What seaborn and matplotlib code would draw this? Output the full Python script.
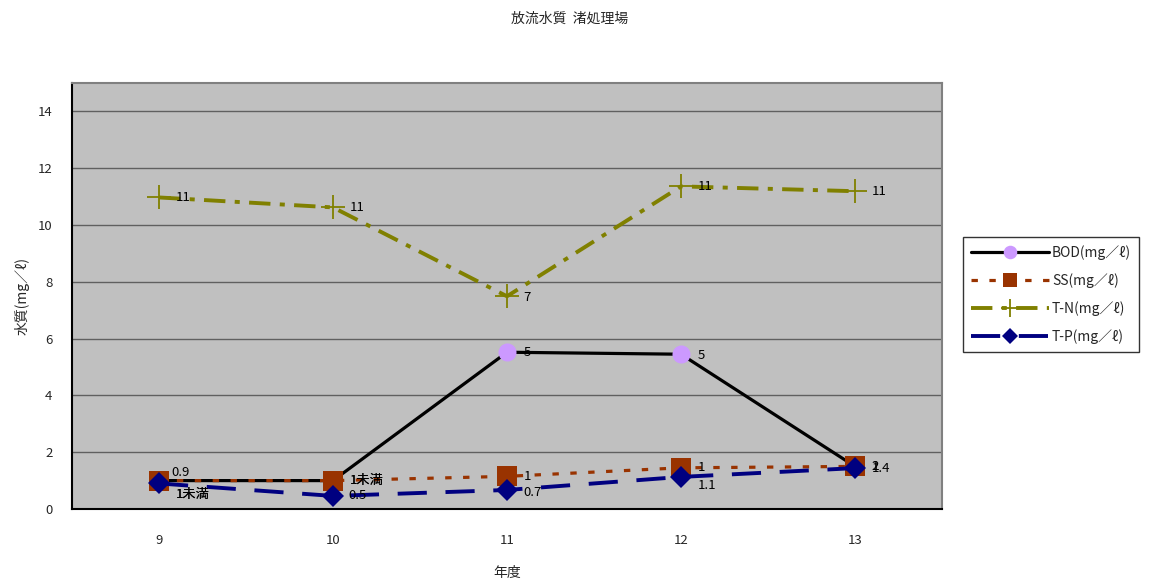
import matplotlib
matplotlib.use("Agg")
import matplotlib.pyplot as plt
import seaborn as sns
import pandas as pd
from matplotlib.lines import Line2D

# Fiscal years and measured effluent quality (mg/l)
years = ["9", "10", "11", "12", "13"]
bod = [1.0, 1.0, 5.52, 5.45, 1.5]
ss = [1.0, 1.0, 1.15, 1.45, 1.5]
tn = [10.97, 10.62, 7.49, 11.36, 11.19]
tp = [0.9, 0.46, 0.67, 1.13, 1.44]

# Data label text as reported
bod_labels = ["1未満", "1未満", "5", "5", "2"]
ss_labels = ["1未満", "1未満", "1", "1", "1"]
tn_labels = ["11", "11", "7", "11", "11"]
tp_labels = ["0.9", "0.5", "0.7", "1.1", "1.4"]

series_names = ["BOD(mg／ℓ)", "SS(mg／ℓ)", "T-N(mg／ℓ)", "T-P(mg／ℓ)"]

sns.set_theme(style="white")
plt.rcParams["font.family"] = ["Noto Sans CJK JP", "DejaVu Sans"]

fig = plt.figure(figsize=(11.57, 5.8), dpi=100)
ax = fig.add_axes([72 / 1157, 71 / 580, 870 / 1157, 426 / 580])
ax.set_facecolor("#C0C0C0")

x = list(range(len(years)))

styles = [
    dict(values=bod, labels=bod_labels, color="black", lw=2.3, dashes=None,
         marker="o", mfc="#CC99FF", mec="#CC99FF", ms=13, mew=0),
    dict(values=ss, labels=ss_labels, color="#993300", lw=2.3, dashes=(2.0, 3.6),
         marker="s", mfc="#993300", mec="#993300", ms=14, mew=0),
    dict(values=tn, labels=tn_labels, color="#808000", lw=2.8, dashes=(5.5, 2.4, 1.3, 2.4),
         marker="+", mfc="#808000", mec="#808000", ms=17, mew=1.3),
    dict(values=tp, labels=tp_labels, color="#000080", lw=2.8, dashes=(7.5, 4.8),
         marker="D", mfc="#000080", mec="#000080", ms=11, mew=0),
]

# label offsets in points per series/point
offsets = [
    [(12, -10), (12, 0), (12, 0), (12, -1), (12, 0)],
    [(12, -10), (12, 0), (12, 0), (12, 0), (12, 0)],
    [(12, 0), (12, 0), (12, -1), (12, 0), (12, 0)],
    [(9, 8), (11, 0), (12, -2), (12, -6), (12, 0)],
]

handles = []
for name, st, offs in zip(series_names, styles, offsets):
    df = pd.DataFrame({"x": x, "y": st["values"]})
    sns.lineplot(data=df, x="x", y="y", ax=ax, color=st["color"], lw=st["lw"],
                 marker=st["marker"], markersize=st["ms"], markerfacecolor=st["mfc"],
                 markeredgecolor=st["mec"], markeredgewidth=st["mew"], zorder=3)
    line = ax.lines[-1]
    if st["dashes"] is not None:
        line.set_dashes(st["dashes"])
    for xi, yi, lab, (dx, dy) in zip(x, st["values"], st["labels"], offs):
        ax.annotate(lab, (xi, yi), xytext=(dx, dy), textcoords="offset points",
                    ha="left", va="center", fontsize=9.5, color="black", zorder=5)
    h = Line2D([], [], color=st["color"], lw=st["lw"], marker=st["marker"],
               markersize=st["ms"] * 0.75, markerfacecolor=st["mfc"],
               markeredgecolor=st["mec"], markeredgewidth=st["mew"])
    if st["dashes"] is not None:
        h.set_dashes(st["dashes"])
    handles.append(h)

ax.set_xlim(-0.5, len(years) - 0.5)
ax.set_ylim(0, 15)
ax.set_yticks(range(0, 15, 2))
ax.set_yticklabels([str(v) for v in range(0, 15, 2)], fontsize=9.5)
ax.set_xticks(x)
ax.set_xticklabels(years, fontsize=9.5)
ax.set_xticks([i + 0.5 for i in x[:-1]], minor=True)
ax.tick_params(axis="x", which="major", length=0, pad=18)
ax.tick_params(axis="x", which="minor", length=5, direction="in", color="black", width=0.8)
ax.tick_params(axis="y", which="major", length=4, direction="in", color="black", width=0.8, pad=14)

ax.grid(axis="y", color="#606060", lw=1.0)
ax.set_axisbelow(True)
for side in ["top", "right"]:
    ax.spines[side].set_visible(True)
    ax.spines[side].set_color("#808080")
    ax.spines[side].set_linewidth(1.5)
for side in ["left", "bottom"]:
    ax.spines[side].set_visible(True)
    ax.spines[side].set_color("black")
    ax.spines[side].set_linewidth(1.5)

ax.set_xlabel("年度", fontsize=10, labelpad=14)
ax.set_ylabel("水質(mg／ℓ)", fontsize=10, labelpad=6)
fig.text(0.492, 0.968, "放流水質  渚処理場", ha="center", va="center", fontsize=10)

leg = fig.legend(handles, series_names, loc="upper left",
                 bbox_to_anchor=(963 / 1157, 1 - 237 / 580), borderaxespad=0,
                 frameon=True, fontsize=10, handlelength=5.6, labelspacing=0.95,
                 borderpad=0.6, handletextpad=0.2, fancybox=False)
leg.get_frame().set_edgecolor("black")
leg.get_frame().set_linewidth(1.0)

fig.savefig("out.png", dpi=100, facecolor="white")
